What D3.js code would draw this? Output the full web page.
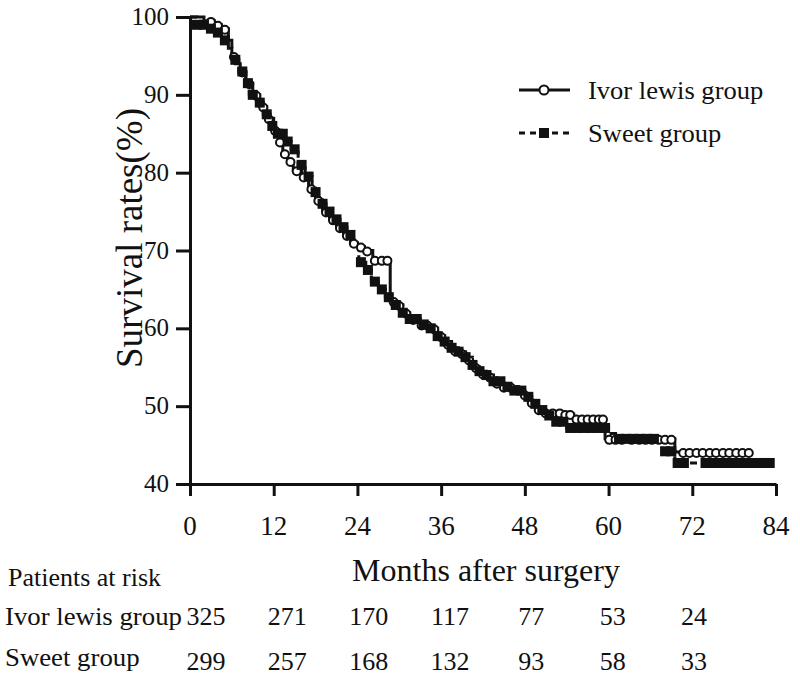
<!DOCTYPE html>
<html><head><meta charset="utf-8">
<script src="https://cdn.jsdelivr.net/npm/d3@7"></script>
<style>body{margin:0;background:#fff}svg{display:block}text{font-family:"Liberation Serif","Times New Roman",serif;fill:#111}</style>
</head><body>
<svg id="chart" width="800" height="680"></svg>
<script>
// ---- data ----
const xTicks = [0, 12, 24, 36, 48, 60, 72, 84];
const yTicks = [40, 50, 60, 70, 80, 90, 100];
const seriesNames = ["Ivor lewis group", "Sweet group"];

const ivorStepMonths = [0,2,3.5,4.5,5.5,6,6.5,7.2,8,9,10,11,12,12.7,13.3,14,14.8,16,17,18,19,20,21,22,23,24,25,26.2,28.7,29.5,30.5,31.5,33,34.5,35.5,36.5,37.5,38.5,39.5,40.5,41.5,42.5,43.5,45,46.5,47.5,48.5,49.5,50.5,53.5,55,59.5,69.5];
const ivorStepSurv   = [100,99.5,99,98.5,97,95,94,93,91.5,90,88.5,87,85.5,84,82.5,81.5,80.3,79.5,78,76.5,75,74,73,72,71,70.5,70,68.8,63.5,63,62,61.2,60.5,60,59,58,57.2,56.8,56,55,54.2,53.8,53,52.5,52.2,51.5,50.5,49.6,49.2,49.0,48.4,45.8,44.1];
const ivorEnd = 80.6;
const ivorCensorMonths = [3,4,5,6.3,7.5,8.5,9.5,10.5,11.3,12.2,12.9,13.6,14.4,15.3,16.3,17.4,18.4,19.5,20.5,21.5,22.5,23.5,24.5,25.4,26.5,27.5,28.3,29.2,30,31,32,33.2,34,35,36,37,38,39,40,41,42,43,44,45,46,47,48,49,50,51,52,53,53.8,54.5,55.4,56.2,57,57.8,58.6,59.2,60.1,61,61.9,63.3,64.4,65.3,66.2,67.2,68.1,69,70.7,71.6,72.6,73.5,74.5,75.4,76.4,77.3,78.3,79.2,80.1];

const sweetStepMonths = [0,1,2.5,3.5,4.5,5.5,6,7,8,8.5,9.5,10.5,11.5,12.5,13.5,14.5,15.5,16.5,17.5,18.5,19.5,20.5,21.5,22.5,23.5,24.2,25.2,26,27,28,29,30.5,31.5,33,34.5,35.5,36.5,37.5,38.5,39.5,40.5,41.5,42.5,43.5,45,46.5,48,49,50,51,52.5,54,60,61,67.7,69.5];
const sweetStepSurv   = [100,99,98.5,98,97,96,94.5,93,91.5,90,89,87.5,86,85,84,83,81,79.5,77.5,76,75,74,73,72,71,68.5,67.5,66,65,64,63,62,61.2,60.5,60,59,58.3,57.5,57,56.3,55.3,54.5,54,53.2,52.5,52,51.2,50.3,49.5,48.8,48,47.2,46.5,45.8,44.2,42.7];
const sweetEnd = 83.6;
const sweetCensorMonths = [1,2,3,4,5,6.5,7.5,8.3,9,10,11,11.8,12.6,13.3,14,15,16,17,18,19,20,21,22,23,24.5,25.5,26.5,27.5,28.5,29.5,30.5,31.5,32.5,33.5,34.5,35.5,36.5,37.5,38.5,39.5,40.5,41.5,42.5,43.5,44.5,45.5,46.5,47.5,48.5,49.5,50.5,51.5,52.5,53.5,54.5,55.5,56.5,57.5,58.5,59.5,61.5,62.5,63.5,64.5,65.5,66.5,68.1,69,69.9,70.8,73.9,74.6,75.9,76.7,77.5,78.3,79.1,79.9,80.7,81.5,82.3,83.1];

const riskIvor  = [325, 271, 170, 117, 77, 53, 24];
const riskSweet = [299, 257, 168, 132, 93, 58, 33];

// ---- layout ----
const svg = d3.select("#chart");
const x = d3.scaleLinear().domain([0, 84]).range([190, 776]);
const y = d3.scaleLinear().domain([40, 100]).range([484, 17]);
const riskX = d3.scaleLinear().domain([0, 6]).range([206, 694]);

function txt(g, px, py, str, size, anchor, sx) {
  return g.append("text")
    .attr("transform", `translate(${px},${py}) scale(${sx||1},1)`)
    .attr("text-anchor", anchor || "start")
    .attr("font-size", size)
    .text(str);
}

// axes
const xAxis = svg.append("g").attr("transform", `translate(0,${y(40)})`)
  .call(d3.axisBottom(x).tickValues(xTicks).tickSizeInner(12).tickSizeOuter(0).tickFormat(""));
const yAxis = svg.append("g").attr("transform", `translate(${x(0)},0)`)
  .call(d3.axisLeft(y).tickValues(yTicks).tickSizeInner(14).tickSizeOuter(0).tickFormat(""));
[xAxis, yAxis].forEach(a => {
  a.selectAll("path,line").attr("stroke", "#111").attr("stroke-width", 3);
});
xTicks.forEach(t => txt(svg, x(t), 535, String(t), 27, "middle"));
yTicks.forEach(t => txt(svg, 169, y(t) + 8, String(t), 25, "end"));

txt(svg, 486, 581, "Months after surgery", 32, "middle");
svg.append("text")
  .attr("transform", `translate(142,238) rotate(-90)`)
  .attr("text-anchor", "middle").attr("font-size", 37)
  .text("Survival rates(%)");

// curves
function stepLookup(months, surv, t) {
  const i = d3.bisectRight(months, t) - 1;
  return surv[Math.max(0, i)];
}
function curvePts(months, surv, end) {
  const pts = months.map((m, i) => [m, surv[i]]);
  pts.push([end, surv[surv.length - 1]]);
  return pts;
}
const line = d3.line().x(d => x(d[0])).y(d => y(d[1])).curve(d3.curveStepAfter);

const plot = svg.append("g");
plot.append("path").datum(curvePts(ivorStepMonths, ivorStepSurv, ivorEnd))
  .attr("d", line).attr("fill", "none").attr("stroke", "#111").attr("stroke-width", 3);
plot.append("path").datum(curvePts(sweetStepMonths, sweetStepSurv, sweetEnd))
  .attr("d", line).attr("fill", "none").attr("stroke", "#111").attr("stroke-width", 3)
  .attr("stroke-dasharray", "7,4");

plot.selectAll("circle.ivor").data(ivorCensorMonths).join("circle")
  .attr("class", "ivor")
  .attr("cx", d => x(d)).attr("cy", d => y(stepLookup(ivorStepMonths, ivorStepSurv, d)) + 1)
  .attr("r", 4).attr("fill", "#fff").attr("stroke", "#111").attr("stroke-width", 2);
plot.selectAll("rect.sweet").data(sweetCensorMonths).join("rect")
  .attr("class", "sweet")
  .attr("x", d => x(d) - 5).attr("y", d => y(stepLookup(sweetStepMonths, sweetStepSurv, d)) - 5)
  .attr("width", 10).attr("height", 10).attr("fill", "#111");

// legend
const leg = svg.append("g");
leg.append("line").attr("x1", 519).attr("x2", 570).attr("y1", 90).attr("y2", 90)
  .attr("stroke", "#111").attr("stroke-width", 3);
leg.append("circle").attr("cx", 544).attr("cy", 90).attr("r", 4.5)
  .attr("fill", "#fff").attr("stroke", "#111").attr("stroke-width", 2);
txt(leg, 588, 99, seriesNames[0], 26, "start", 1.02);
leg.append("line").attr("x1", 519).attr("x2", 570).attr("y1", 133).attr("y2", 133)
  .attr("stroke", "#111").attr("stroke-width", 3).attr("stroke-dasharray", "6,5");
leg.append("rect").attr("x", 539).attr("y", 128).attr("width", 10).attr("height", 10).attr("fill", "#111");
txt(leg, 588, 142, seriesNames[1], 26, "start", 1.02);

// risk table
txt(svg, 8, 586, "Patients at risk", 26);
txt(svg, 5, 625, seriesNames[0], 26, "start", 1.03);
txt(svg, 5, 666, seriesNames[1], 26, "start", 1.03);
riskIvor.forEach((v, i) => txt(svg, riskX(i), 625, String(v), 26, "middle"));
riskSweet.forEach((v, i) => txt(svg, riskX(i), 670, String(v), 26, "middle"));
</script>
</body></html>
